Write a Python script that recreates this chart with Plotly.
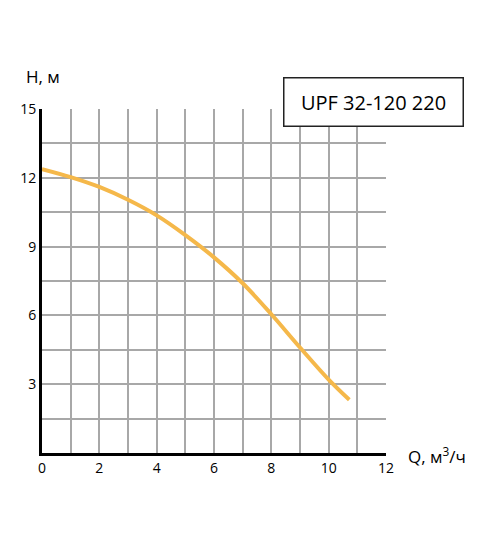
import plotly.graph_objects as go

# Pump curve UPF 32-120 220
flow = [0, 1, 2, 3, 4, 5, 6, 7, 8, 9, 10, 10.72]
head = [12.38, 12.03, 11.6, 11.04, 10.36, 9.5, 8.53, 7.4, 6.05, 4.6, 3.2, 2.32]

x_ticks = list(range(0, 13))
x_labels = [str(v) if v % 2 == 0 else " " for v in x_ticks]
y_ticks = [0, 1.5, 3, 4.5, 6, 7.5, 9, 10.5, 12, 13.5, 15]
y_labels = [" ", " ", "3", " ", "6", " ", "9", " ", "12", " ", "15"]

font = "Open Sans"

fig = go.Figure()
fig.add_trace(go.Scatter(
    x=flow,
    y=head,
    mode="lines",
    line=dict(color="#F5B84A", width=4, shape="spline", smoothing=1.0),
    hoverinfo="skip"
))

fig.update_layout(
    width=492,
    height=530,
    margin=dict(l=34, r=114, t=101, b=85),
    paper_bgcolor="white",
    plot_bgcolor="white",
    showlegend=False,
    font=dict(family=font, color="black", size=14),
    xaxis=dict(
        range=[0, 12],
        tickvals=x_ticks,
        ticktext=x_labels,
        showgrid=True,
        gridcolor="#A8A8A8",
        gridwidth=1.5,
        showline=True,
        linecolor="black",
        linewidth=3,
        ticks="",
        zeroline=False,
        fixedrange=True,
    ),
    yaxis=dict(
        range=[0, 15],
        tickvals=y_ticks,
        ticktext=y_labels,
        showgrid=True,
        gridcolor="#A8A8A8",
        gridwidth=1.5,
        showline=True,
        linecolor="black",
        linewidth=3,
        ticks="",
        zeroline=False,
        fixedrange=True,
    ),
    annotations=[
        dict(text="UPF 32-120 220", xref="paper", yref="paper",
             x=0.965, y=1.019, xanchor="center", yanchor="middle",
             showarrow=False,
             font=dict(family="Open Sans", size=20, color="black"),
             bordercolor="#222222", borderwidth=1.5, borderpad=10,
             bgcolor="white", width=158),
        dict(text="H, м", xref="paper", yref="paper",
             x=0.004, y=1.094, xanchor="center", yanchor="middle",
             showarrow=False,
             font=dict(family=font, size=17)),
        dict(text="Q, м<sup>3</sup>/ч", xref="paper", yref="paper",
             x=1.148, y=-0.007, xanchor="center", yanchor="middle",
             showarrow=False,
             font=dict(family=font, size=17)),
    ],
)

fig.write_html("out.html")
